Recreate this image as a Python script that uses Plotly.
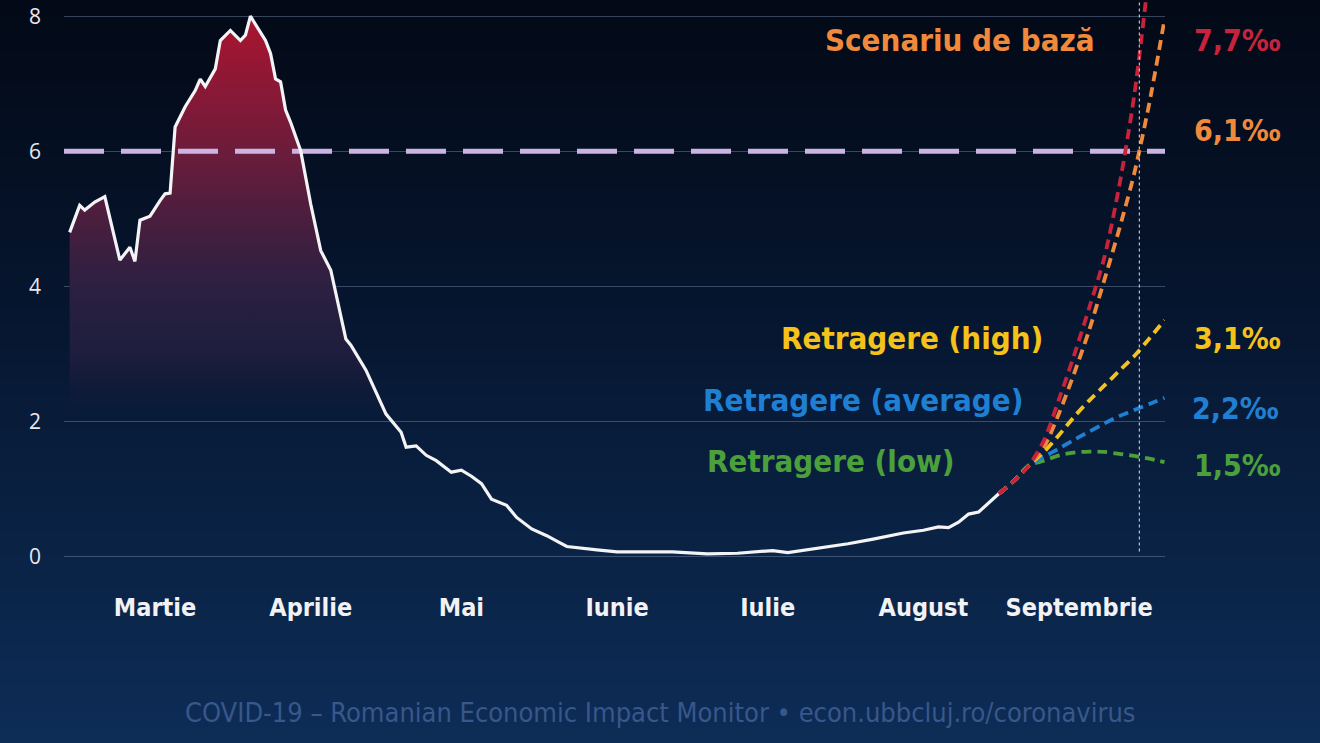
import plotly.graph_objects as go

# ---------------- data ----------------
hist_dates = ["2021-02-27", "2021-03-01", "2021-03-02", "2021-03-04", "2021-03-06", "2021-03-09",
              "2021-03-11", "2021-03-12", "2021-03-13", "2021-03-15", "2021-03-17", "2021-03-18",
              "2021-03-19", "2021-03-20", "2021-03-22", "2021-03-24", "2021-03-25", "2021-03-26",
              "2021-03-28", "2021-03-29", "2021-03-31", "2021-04-02", "2021-04-03", "2021-04-04",
              "2021-04-07", "2021-04-08", "2021-04-09", "2021-04-10", "2021-04-11", "2021-04-12",
              "2021-04-14", "2021-04-16", "2021-04-18", "2021-04-20", "2021-04-23", "2021-04-24",
              "2021-04-27", "2021-05-01", "2021-05-04", "2021-05-05", "2021-05-07", "2021-05-09",
              "2021-05-11", "2021-05-14", "2021-05-16", "2021-05-18", "2021-05-20", "2021-05-22",
              "2021-05-25", "2021-05-27", "2021-05-30", "2021-06-02", "2021-06-04", "2021-06-06",
              "2021-06-12", "2021-06-16", "2021-06-27", "2021-07-04", "2021-07-10", "2021-07-17",
              "2021-07-20", "2021-07-25", "2021-08-01", "2021-08-06", "2021-08-12", "2021-08-16",
              "2021-08-19", "2021-08-21", "2021-08-23", "2021-08-25", "2021-08-27", "2021-08-31"]
hist_values = [4.80, 5.20, 5.13, 5.25, 5.33, 4.39, 4.58, 4.37, 4.98, 5.04, 5.27, 5.37,
               5.38, 6.36, 6.66, 6.90, 7.07, 6.96, 7.22, 7.64, 7.79, 7.64, 7.72, 8.00,
               7.64, 7.45, 7.07, 7.03, 6.61, 6.43, 6.01, 5.22, 4.53, 4.24, 3.22, 3.13,
               2.76, 2.11, 1.84, 1.62, 1.64, 1.50, 1.42, 1.25, 1.28, 1.19, 1.08, 0.85,
               0.76, 0.58, 0.41, 0.31, 0.23, 0.15, 0.10, 0.07, 0.07, 0.04, 0.05, 0.09,
               0.06, 0.11, 0.19, 0.26, 0.35, 0.39, 0.44, 0.43, 0.51, 0.63, 0.66, 0.93]

proj_dates = ["2021-08-31", "2021-09-03", "2021-09-06", "2021-09-09", "2021-09-12", "2021-09-15",
              "2021-09-18", "2021-09-21", "2021-09-24", "2021-09-27", "2021-09-30", "2021-10-03"]
proj_red = [0.93, 1.12, 1.35, 1.72, 2.33, 2.98, 3.68, 4.42, 5.49, 6.84, 8.70, 10.9]
proj_orange = [0.93, 1.12, 1.35, 1.62, 2.12, 2.71, 3.35, 4.09, 4.85, 5.68, 6.72, 7.95]
proj_yellow = [0.93, 1.12, 1.35, 1.55, 1.80, 2.07, 2.31, 2.53, 2.75, 2.97, 3.23, 3.50]
proj_blue = [0.93, 1.12, 1.35, 1.48, 1.60, 1.73, 1.85, 1.97, 2.08, 2.17, 2.26, 2.35]
proj_green = [0.93, 1.12, 1.35, 1.42, 1.50, 1.54, 1.555, 1.55, 1.52, 1.49, 1.45, 1.40]

threshold = 6
marker_date = "2021-09-28"
x_range = ["2021-02-25 21:00", "2021-10-03 02:30"]

month_tick_dates = ["2021-03-16", "2021-04-16", "2021-05-16", "2021-06-16",
                    "2021-07-16", "2021-08-16", "2021-09-16"]
month_labels = ["Martie", "Aprilie", "Mai", "Iunie", "Iulie", "August", "Septembrie"]
y_ticks = [0, 2, 4, 6, 8]

scenario_names = ["Scenariu de bază", "Retragere (high)", "Retragere (average)", "Retragere (low)"]
end_labels = ["7,7‰", "6,1‰", "3,1‰", "2,2‰", "1,5‰"]
footer = "COVID-19 – Romanian Economic Impact Monitor • econ.ubbcluj.ro/coronavirus"

# ---------------- geometry / styles ----------------
W, H = 1320, 743
L, R = 64, 1165
Y_LO, Y_HI = -0.05, 8.24
PX_PER_UNIT = 67.5
plot_h = (Y_HI - Y_LO) * PX_PER_UNIT
B = H - plot_h

def pxx(p):
    return (p - L) / (R - L)

def pxy(p):
    return (plot_h - p) / plot_h

NARROW = "Liberation Sans Narrow, DejaVu Sans Condensed, Roboto, sans-serif"
RED, ORANGE, YELLOW, BLUE, GREEN = "#c8223c", "#f08a3a", "#f5c21b", "#1f80d3", "#4ba03c"

fig = go.Figure()

# gradient fill under history
fig.add_trace(go.Scatter(
    x=hist_dates, y=hist_values, mode="lines",
    line=dict(width=0, color="rgba(0,0,0,0)"),
    fill="tozeroy",
    fillgradient=dict(type="vertical", start=0, stop=8,
                      colorscale=[[0.0, "rgba(28,28,58,0)"], [0.27, "rgba(28,28,58,0)"],
                                  [0.375, "rgba(32,30,62,0.9)"], [0.5, "#2c2042"],
                                  [0.625, "#4a1e3e"], [0.75, "#6c1c3b"],
                                  [0.875, "#8c1835"], [1.0, "#ab152f"]]),
    hoverinfo="skip", showlegend=False))

# threshold line (over the fill, under the curves)
fig.add_trace(go.Scatter(
    x=x_range, y=[threshold, threshold], mode="lines",
    line=dict(color="#cbb4e2", width=5, dash="40px,17px"),
    hoverinfo="skip", showlegend=False))

# history line
fig.add_trace(go.Scatter(
    x=hist_dates, y=hist_values, mode="lines",
    line=dict(color="#f4f4f6", width=3.2),
    hoverinfo="skip", showlegend=False))

for vals, col in [(proj_green, GREEN), (proj_blue, BLUE), (proj_yellow, YELLOW),
                  (proj_orange, ORANGE), (proj_red, RED)]:
    fig.add_trace(go.Scatter(
        x=proj_dates, y=vals, mode="lines",
        line=dict(color=col, width=3.8, dash="10px,6px", shape="spline", smoothing=0.8),
        hoverinfo="skip", showlegend=False))

# background gradient bands
stops = [(0.0, (3, 9, 22)), (0.4, (6, 21, 46)), (0.75, (10, 35, 70)), (1.0, (13, 45, 87))]

def grad(t):
    for (t0, c0), (t1, c1) in zip(stops[:-1], stops[1:]):
        if t <= t1:
            f = (t - t0) / (t1 - t0)
            return "rgb(%d,%d,%d)" % tuple(round(a + (b - a) * f) for a, b in zip(c0, c1))
    return "rgb(%d,%d,%d)" % stops[-1][1]

shapes = []
N = 90
for i in range(N):
    y0p = H * i / N
    y1p = H * (i + 1) / N + 1
    shapes.append(dict(type="rect", xref="paper", yref="paper", layer="below",
                       x0=pxx(0), x1=pxx(W), y0=pxy(y1p), y1=pxy(y0p),
                       line=dict(width=0), fillcolor=grad((i + 0.5) / N)))

# marker line
shapes.append(dict(type="line", xref="x", yref="paper", x0=marker_date, x1=marker_date, y0=pxy(551), y1=1,
                   line=dict(color="rgba(215,222,235,0.85)", width=1.2, dash="dot"), layer="above"))

annotations = []

def label(text, xp, yp, color, anchor, size=31):
    annotations.append(dict(text=text, xref="paper", yref="paper", x=pxx(xp), y=pxy(yp),
                            xanchor=anchor, yanchor="middle", showarrow=False,
                            font=dict(family=NARROW, size=size, color=color, weight="bold")))

label(scenario_names[0], 1097, 40, ORANGE, "right")
label(scenario_names[1], 1045, 338, YELLOW, "right")
label(scenario_names[2], 1025, 400, BLUE, "right")
label(scenario_names[3], 957, 461, GREEN, "right")
label(end_labels[0], 1192, 40, RED, "left", 30)
label(end_labels[1], 1192, 130, ORANGE, "left", 30)
label(end_labels[2], 1192, 338, YELLOW, "left", 30)
label(end_labels[3], 1190, 408, BLUE, "left", 30)
label(end_labels[4], 1192, 465, GREEN, "left", 30)

annotations.append(dict(text=footer, xref="paper", yref="paper", x=pxx(660), y=pxy(712),
                        xanchor="center", yanchor="middle", showarrow=False,
                        font=dict(family=NARROW, size=27, color="#38578a")))

fig.update_layout(
    width=W, height=H,
    margin=dict(l=L, r=W - R, t=0, b=B, pad=0),
    paper_bgcolor="#061530", plot_bgcolor="rgba(0,0,0,0)",
    shapes=shapes, annotations=annotations,
    xaxis=dict(type="date", range=x_range,
               tickvals=month_tick_dates, ticktext=month_labels, showgrid=False,
               zeroline=False, showline=False, ticks="", ticklabelstandoff=30,
               tickfont=dict(family=NARROW, size=25, color="#f2f2f5", weight="bold")),
    yaxis=dict(range=[Y_LO, Y_HI], tickvals=y_ticks, ticktext=[str(v) for v in y_ticks],
               showgrid=True, gridcolor="rgba(120,140,175,0.45)", gridwidth=1,
               zeroline=False, showline=False, ticks="", ticklabelstandoff=22,
               tickfont=dict(family="Open Sans", size=21, color="#e8e8ee")),
    showlegend=False,
)

fig.write_html("out.html")
